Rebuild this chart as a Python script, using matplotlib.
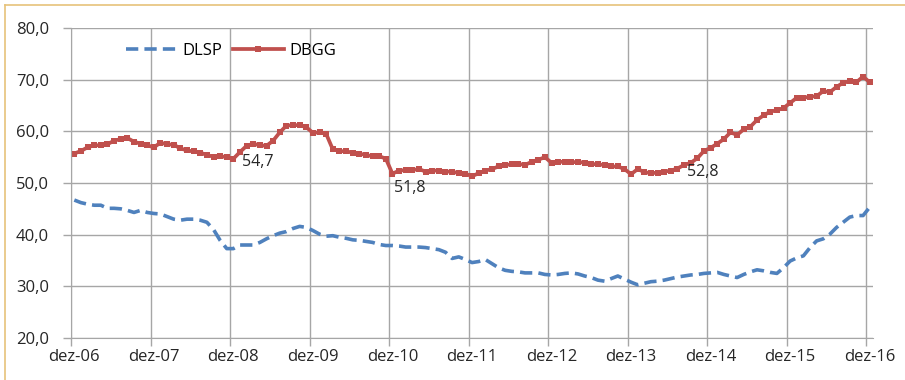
import matplotlib.pyplot as plt
from matplotlib.lines import Line2D

# dívida líquida (DLSP) e dívida bruta (DBGG), % do PIB, mensal dez-06 a dez-16
dlsp = [46.7, 46.2, 45.9, 45.7, 45.7, 45.1, 45.1, 45.0, 44.7, 44.3, 44.7, 44.3,
        44.1, 44.0, 43.5, 43.0, 42.8, 43.0, 43.0, 42.8, 42.4, 41.0, 38.9, 37.3,
        37.3, 38.0, 38.0, 38.0, 38.5, 39.2, 39.8, 40.3, 40.6, 41.2, 41.6, 41.4,
        40.8, 40.1, 39.7, 39.8, 39.5, 39.3, 39.0, 38.9, 38.7, 38.5, 38.1, 37.9,
        37.9, 37.8, 37.6, 37.6, 37.6, 37.5, 37.3, 37.1, 36.6, 35.4, 35.7, 35.2,
        34.6, 34.8, 35.2, 34.4, 33.6, 33.1, 32.9, 32.8, 32.6, 32.6, 32.6, 32.3,
        32.2, 32.3, 32.5, 32.6, 32.4, 32.0, 31.7, 31.2, 31.0, 31.5, 32.0, 31.4,
        30.8, 30.3, 30.6, 30.9, 31.0, 31.2, 31.5, 31.8, 32.0, 32.2, 32.3, 32.5,
        32.6, 32.7, 32.3, 32.0, 31.7, 32.3, 32.8, 33.2, 33.0, 32.7, 32.5, 33.6,
        34.9, 35.5, 35.9, 37.5, 38.8, 39.2, 40.1, 41.4, 42.4, 43.4, 43.7, 43.7,
        45.3]
dbgg = [55.7, 56.2, 56.9, 57.3, 57.3, 57.5, 58.2, 58.5, 58.7, 58.0, 57.6, 57.3,
        56.9, 57.8, 57.5, 57.4, 56.7, 56.3, 56.1, 55.9, 55.4, 55.1, 55.2, 55.0,
        54.7, 56.0, 57.2, 57.6, 57.3, 57.2, 58.2, 59.8, 61.1, 61.2, 61.2, 60.8,
        59.7, 59.8, 59.5, 56.5, 56.2, 56.1, 55.9, 55.7, 55.4, 55.2, 55.2, 54.7,
        51.8, 52.4, 52.5, 52.5, 52.7, 52.2, 52.4, 52.4, 52.2, 52.2, 51.9, 51.8,
        51.3, 51.9, 52.4, 52.7, 53.2, 53.5, 53.6, 53.7, 53.5, 54.1, 54.5, 55.0,
        53.9, 54.1, 54.1, 54.0, 54.1, 53.9, 53.7, 53.6, 53.5, 53.2, 53.2, 52.7,
        51.7, 52.7, 52.1, 51.9, 52.0, 52.2, 52.4, 52.8, 53.5, 53.9, 54.8,
        56.2, 56.8, 57.6, 58.5, 59.8, 59.3, 60.4, 60.9, 62.2, 63.1, 63.8, 64.1,
        64.5, 65.5, 66.5, 66.5, 66.7, 66.8, 67.8, 67.6, 68.6, 69.4, 69.7, 69.5,
        70.6, 69.5]
anos = ["dez-06", "dez-07", "dez-08", "dez-09", "dez-10", "dez-11",
        "dez-12", "dez-13", "dez-14", "dez-15", "dez-16"]
# rótulos de dados: índice do mês, texto, deslocamento do texto (meses, p.p.)
rotulos = [(24, "54,7", (1.3, -0.6)), (48, "51,8", (0.2, -2.8)),
           (91, "52,8", (1.4, -0.6))]

plt.rcParams['font.family'] = ['Open Sans', 'DejaVu Sans']

azul = '#4F81BD'
vermelho = '#C0504D'
cinza = '#A6A6A6'
tracejado = (0, (3.4, 1.7))

fig = plt.figure(figsize=(9.05, 3.8), dpi=100)
ax = fig.add_axes([71 / 905, 1 - 338 / 380, 802 / 905, 310 / 380])

n = len(dbgg)
x = [i + 0.5 for i in range(n)]

ax.plot(x, dlsp, color=azul, lw=2.6, ls=tracejado, label='DLSP',
        dash_capstyle='butt')
ax.plot(x, dbgg, color=vermelho, lw=2.7, marker='s', ms=5.0,
        markeredgewidth=0, label='DBGG')

for i, txt, (dx, dy) in rotulos:
    ax.annotate(txt, xy=(x[i], dbgg[i]), xytext=(x[i] + dx, dbgg[i] + dy),
                fontsize=11.5, color='#262626', va='center', ha='left')

ax.set_xlim(0, n)
ax.set_ylim(20, 80)
ax.set_yticks(range(20, 81, 10))
ax.set_yticklabels([f"{v},0" for v in range(20, 81, 10)])
ax.set_xticks([12 * k for k in range(len(anos))])
ax.set_xticks([12 * k + 0.5 for k in range(len(anos))], minor=True)
ax.set_xticklabels([])
ax.set_xticklabels(anos, minor=True)

ax.grid(True, which='major', color=cinza, lw=1.0)
ax.set_axisbelow(True)
for s in ['top', 'right']:
    ax.spines[s].set_visible(False)
for s in ['left', 'bottom']:
    ax.spines[s].set_color(cinza)
ax.tick_params(axis='both', which='major', color=cinza, length=6, width=1.0,
               labelsize=12, labelcolor='#262626')
ax.tick_params(axis='y', pad=10)
ax.tick_params(axis='x', which='minor', length=0, pad=8, labelsize=12,
               labelcolor='#262626')

h = [Line2D([], [], color=azul, lw=2.6, ls=tracejado),
     Line2D([], [], color=vermelho, lw=2.7, marker='s', ms=5.0,
            markeredgewidth=0, markevery=[1])]
ax.legend(h, ['DLSP', 'DBGG'], loc='upper left', bbox_to_anchor=(0.05, 1.0),
          ncol=2, frameon=False, fontsize=12, handlelength=3.1,
          handletextpad=0.3, columnspacing=0.6)

# moldura fina dourada no topo e à esquerda
fig.add_artist(Line2D([5 / 905, 1], [1 - 5 / 380, 1 - 5 / 380],
                      transform=fig.transFigure, color='#E6C27A', lw=1.2))
fig.add_artist(Line2D([5 / 905, 5 / 905], [0, 1 - 5 / 380],
                      transform=fig.transFigure, color='#E6C27A', lw=1.2))

fig.savefig('out.png', dpi=100)
